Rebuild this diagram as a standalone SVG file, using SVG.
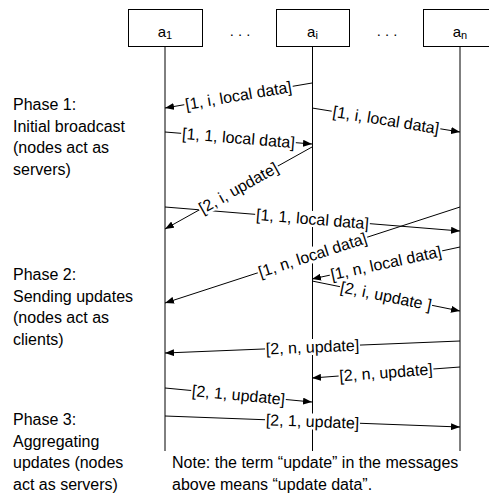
<svg xmlns="http://www.w3.org/2000/svg" width="489" height="494" viewBox="0 0 489 494">
<style>
.box{fill:#fff;stroke:#000;stroke-width:1}
.life{stroke:#000;stroke-width:1;fill:none}
.msg{stroke:#000;stroke-width:1;fill:none;marker-end:url(#arr)}
.nm{font-family:"Liberation Sans",Arial,sans-serif;font-size:15px;fill:#000;text-anchor:middle}
.dots{font-family:"DejaVu Sans",Verdana,sans-serif;font-size:13px;fill:#000;text-anchor:middle}
.sub{font-size:11px}
.bg{fill:#fff;stroke:none}
.lbl{font-family:"Liberation Sans",Arial,sans-serif;font-size:16px;fill:#000;text-anchor:middle;dominant-baseline:central}
.txt{font-family:"Liberation Sans",Arial,sans-serif;font-size:16px;fill:#000}
</style>
<defs>
<marker id="arr" markerUnits="userSpaceOnUse" markerWidth="9" markerHeight="7" refX="9" refY="3.5" orient="auto">
<path d="M0,0 L9,3.5 L0,7 z" fill="#000"/>
</marker>
</defs>
<rect width="489" height="494" fill="#fff"/>

<g id="node-a1">
<line class="life" x1="165" y1="46" x2="165" y2="451"/>
<rect class="box" x="128.5" y="9.5" width="74" height="37"/>
<text class="nm" x="165" y="37">a<tspan class="sub" dy="2">1</tspan></text>
</g>
<g id="node-ai">
<line class="life" x1="312.5" y1="46" x2="312.5" y2="451"/>
<rect class="box" x="276.5" y="9.5" width="73" height="37"/>
<text class="nm" x="312.5" y="37">a<tspan class="sub" dy="2">i</tspan></text>
</g>
<g id="node-an">
<line class="life" x1="460" y1="46" x2="460" y2="451"/>
<rect class="box" x="423.5" y="9.5" width="80" height="37"/>
<text class="nm" x="460" y="37">a<tspan class="sub" dy="2">n</tspan></text>
</g>

<g id="ellipses">
<text class="dots" x="240" y="36">. . .</text>
<text class="dots" x="387" y="36">. . .</text>
</g>

<g id="connectors">
<line class="msg" x1="312" y1="83" x2="165" y2="108"/>
<line class="msg" x1="312" y1="108" x2="460" y2="132"/>
<line class="msg" x1="165" y1="132" x2="312" y2="144"/>
<line class="msg" x1="312" y1="147" x2="165" y2="229"/>
<line class="msg" x1="165" y1="207" x2="460" y2="231"/>
<line class="msg" x1="460" y1="207" x2="165" y2="303"/>
<line class="msg" x1="460" y1="247" x2="312" y2="279"/>
<line class="msg" x1="312" y1="281" x2="460" y2="311"/>
<line class="msg" x1="460" y1="341" x2="165" y2="353"/>
<line class="msg" x1="460" y1="367" x2="312" y2="378"/>
<line class="msg" x1="165" y1="388" x2="312" y2="402"/>
<line class="msg" x1="165" y1="416" x2="460" y2="427"/>

<g transform="translate(238.5,95.5) rotate(-9.65)"><rect class="bg" x="-55" y="-8" width="110" height="16"/><text class="lbl">[1, i, local data]</text></g>
<g transform="translate(386,120) rotate(9.2)"><rect class="bg" x="-55" y="-8" width="110" height="16"/><text class="lbl">[1, i, local data]</text></g>
<g transform="translate(238.5,138) rotate(4.67)"><rect class="bg" x="-57.5" y="-8" width="115" height="16"/><text class="lbl">[1, 1, local data]</text></g>
<g transform="translate(238.5,188) rotate(-29.2)"><rect class="bg" x="-45" y="-8" width="90" height="16"/><text class="lbl">[2, i, update]</text></g>
<g transform="translate(312.5,219) rotate(4.65)"><rect class="bg" x="-57.5" y="-8" width="115" height="16"/><text class="lbl">[1, 1, local data]</text></g>
<g transform="translate(312.5,255) rotate(-18)"><rect class="bg" x="-57.5" y="-8" width="115" height="16"/><text class="lbl">[1, n, local data]</text></g>
<g transform="translate(386,263) rotate(-12.2)"><rect class="bg" x="-57.5" y="-8" width="115" height="16"/><text class="lbl">[1, n, local data]</text></g>
<g transform="translate(386,296) rotate(11.5)"><rect class="bg" x="-47" y="-8" width="94" height="16"/><text class="lbl">[2, i, update ]</text></g>
<g transform="translate(312.5,347) rotate(-2.3)"><rect class="bg" x="-47.5" y="-8" width="95" height="16"/><text class="lbl">[2, n, update]</text></g>
<g transform="translate(386,372.5) rotate(-4.25)"><rect class="bg" x="-47.5" y="-8" width="95" height="16"/><text class="lbl">[2, n, update]</text></g>
<g transform="translate(238.5,395) rotate(5.44)"><rect class="bg" x="-47.5" y="-8" width="95" height="16"/><text class="lbl">[2, 1, update]</text></g>
<g transform="translate(312.5,421.5) rotate(2.1)"><rect class="bg" x="-47.5" y="-8" width="95" height="16"/><text class="lbl">[2, 1, update]</text></g>
</g>

<g id="phase1">
<text class="txt" x="13" y="110">Phase 1:</text>
<text class="txt" x="13" y="132">Initial broadcast</text>
<text class="txt" x="13" y="153">(nodes act as</text>
<text class="txt" x="13" y="175">servers)</text>
</g>
<g id="phase2">
<text class="txt" x="13" y="280">Phase 2:</text>
<text class="txt" x="13" y="302">Sending updates</text>
<text class="txt" x="13" y="323">(nodes act as</text>
<text class="txt" x="13" y="345">clients)</text>
</g>
<g id="phase3">
<text class="txt" x="13" y="425">Phase 3:</text>
<text class="txt" x="13" y="447">Aggregating</text>
<text class="txt" x="13" y="468">updates (nodes</text>
<text class="txt" x="13" y="490">act as servers)</text>
</g>
<g id="note">
<text class="txt" x="172" y="468">Note: the term “update” in the messages</text>
<text class="txt" x="172" y="490">above means “update data”.</text>
</g>
</svg>
